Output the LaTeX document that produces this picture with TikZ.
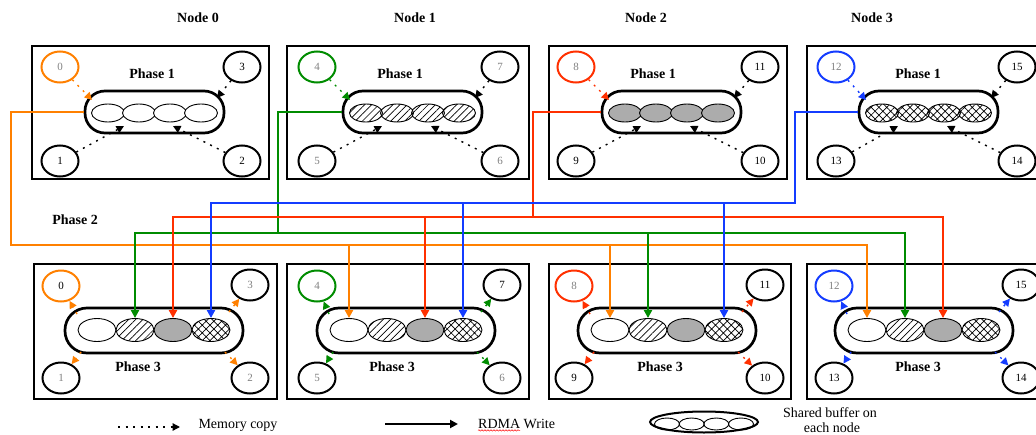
\documentclass[tikz,border=0pt]{standalone}
\usepackage{fontspec}
\setmainfont{Liberation Serif}
\usetikzlibrary{shapes.geometric,arrows.meta,patterns.meta,decorations.pathmorphing}
\definecolor{cOra}{RGB}{255,128,0}
\definecolor{cGrn}{RGB}{0,140,0}
\definecolor{cRed}{RGB}{255,48,0}
\definecolor{cBlu}{RGB}{20,60,255}
\tikzset{
  panel/.style={draw, line width=2.5pt, inner sep=0pt},
  proc/.style={draw, ellipse, line width=2pt, minimum width=37pt, minimum height=31pt,
    inner sep=0pt, font=\fontsize{11}{13}\selectfont},
  capsule/.style={draw, rectangle, line width=2.7pt, inner sep=0pt},
  slotA/.style={draw, ellipse, line width=0.9pt, minimum width=33pt, minimum height=18pt, inner sep=0pt},
  slotB/.style={draw, ellipse, line width=0.9pt, minimum width=38pt, minimum height=23pt, inner sep=0pt},
  buf0/.style={fill=white},
  buf1/.style={pattern={Lines[angle=45,distance=5pt,line width=0.7pt]}},
  buf2/.style={fill=gray!65},
  buf3/.style={pattern={Hatch[angle=45,distance=5.5pt,line width=0.7pt]}},
  copyline/.style={line width=1.4pt, dash pattern=on 2pt off 5.5pt, -{Triangle[length=7.5pt,width=7.5pt]}},
  bus/.style={line width=2pt, -{Triangle[length=8pt,width=8pt]}},
  heading/.style={font=\bfseries\fontsize{14}{16}\selectfont},
  legend/.style={font=\fontsize{14}{17}\selectfont},
}
\begin{document}
\begin{tikzpicture}[x=1pt,y=-1pt]
\useasboundingbox (0,0) rectangle (1036,434);

% column headings
\node[heading] (h0) at (198,18) {Node 0};
\node[heading] (h1) at (415,18) {Node 1};
\node[heading] (h2) at (646,18) {Node 2};
\node[heading] (h3) at (872,18) {Node 3};
\node[heading] (ph2) at (75,220) {Phase 2};

% phase 1: every process copies into the shared buffer of its node
\foreach \i/\bx/\bw/\xa/\xb/\cl/\ph/\col/\pat/\lc in {
  0/150.5/237/60/242/85/152/cOra/buf0/black,
  1/408/242/317/500/343/400/cGrn/buf1/gray,
  2/668/238/576/760/602/653/cRed/buf2/black,
  3/926/238/836/1017/859/918/cBlu/buf3/black}{
  \pgfmathtruncatemacro\na{4*\i}
  \pgfmathtruncatemacro\nb{4*\i+1}
  \pgfmathtruncatemacro\nc{4*\i+2}
  \pgfmathtruncatemacro\nd{4*\i+3}
  \pgfmathsetmacro\cx{\cl+69.5}
  \node[panel, minimum width=\bw pt, minimum height=133pt] (tp\i) at (\bx,112.5) {};
  \node[heading] (tt\i) at (\ph,74) {Phase 1};
  \node[capsule, rounded corners=20pt, minimum width=139pt, minimum height=42pt] (tcap\i) at (\cx,112) {};
  \foreach \k/\dx in {0/-46.5,1/-15.5,2/15.5,3/46.5}
    \node[slotA,\pat] (ts\i\k) at (\cx+\dx,113) {};
  \node[proc, draw=\col, text=gray] (tqa\i) at (\xa,67) {\na};
  \node[proc, text=\lc] (tqd\i) at (\xb,67) {\nd};
  \node[proc, text=\lc] (tqb\i) at (\xa,161) {\nb};
  \node[proc, text=\lc] (tqc\i) at (\xb,161) {\nc};
  \draw[copyline, color=\col] (tqa\i) -- ([shift={(-62.5,-12)}]tcap\i.center);
  \draw[copyline] (tqd\i) -- ([shift={(62.5,-14)}]tcap\i.center);
  \draw[copyline] (tqb\i) -- ([shift={(-30.5,14)}]tcap\i.center);
  \draw[copyline] (tqc\i) -- ([shift={(18.5,14)}]tcap\i.center);
}

% phase 3: the gathered buffer is copied back to every process
\foreach \i/\bx/\bw/\e/\ph/\xa/\xb/\col/\ca/\cb/\cc in {
  0/155.5/243/97/138/61/250/cOra/black/gray/gray,
  1/408/242/349/392/317/502/cGrn/gray/black/gray,
  2/670/242/610/660/574/765/cRed/gray/black/black,
  3/927.5/241/867/918/834/1021/cBlu/gray/black/black}{
  \pgfmathtruncatemacro\na{4*\i}
  \pgfmathtruncatemacro\nb{4*\i+1}
  \pgfmathtruncatemacro\nc{4*\i+2}
  \pgfmathtruncatemacro\nd{4*\i+3}
  \pgfmathsetmacro\cx{\e+57}
  \node[panel, minimum width=\bw pt, minimum height=135pt] (bp\i) at (\bx,331.5) {};
  \node[heading] (bt\i) at (\ph,367) {Phase 3};
  \node[capsule, rounded corners=22pt, minimum width=178pt, minimum height=45pt] (bcap\i) at (\cx,330.5) {};
  \foreach \k in {0,...,3}
    \node[slotB,buf\k] (bs\i\k) at ({\e+38*\k},330) {};
  \node[proc, draw=\col, text=\ca] (bqa\i) at (\xa,286) {\na};
  \node[proc, text=\cb] (bqd\i) at (\xb,285) {\nd};
  \node[proc, text=\cc] (bqb\i) at (\xa,378) {\nb};
  \node[proc, text=\cc] (bqc\i) at (\xb,378) {\nc};
  \draw[copyline, color=\col] ([shift={(-77,-16.5)}]bcap\i.center) -- (bqa\i);
  \draw[copyline, color=\col] ([shift={(75,-18.5)}]bcap\i.center) -- (bqd\i);
  \draw[copyline, color=\col] ([shift={(-73,21.5)}]bcap\i.center) -- (bqb\i);
  \draw[copyline, color=\col] ([shift={(71,21.5)}]bcap\i.center) -- (bqc\i);
}

% phase 2: RDMA writes of each node's buffer into the other nodes
\coordinate (ocorner) at (11,245);
\coordinate (gcorner) at (278,233);
\coordinate (rcorner) at (533,217);
\coordinate (bcorner) at (795,203);

\draw[bus, cOra] (tcap0.west) -| (ocorner) -| (bs30.north);
\draw[bus, cOra] (bs10.north |- ocorner) -- (bs10.north);
\draw[bus, cOra] (bs20.north |- ocorner) -- (bs20.north);

\draw[bus, cGrn] (tcap1.west) -| (gcorner) -| (bs01.north);
\draw[bus, cGrn] (gcorner) -| (bs31.north);
\draw[bus, cGrn] (bs21.north |- gcorner) -- (bs21.north);

\draw[bus, cRed] (tcap2.west) -| (rcorner) -| (bs02.north);
\draw[bus, cRed] (rcorner) -| (bs32.north);
\draw[bus, cRed] (bs12.north |- rcorner) -- (bs12.north);

\draw[bus, cBlu] (tcap3.west) -| (bcorner) -| (bs03.north);
\draw[bus, cBlu] (bs13.north |- bcorner) -- (bs13.north);
\draw[bus, cBlu] (bs23.north |- bcorner) -- (bs23.north);

% legend
\coordinate (mca) at (118,427);
\coordinate (mcb) at (180,427);
\draw[copyline] (mca) -- (mcb);
\node[legend, anchor=west] (mctxt) at (195,425) {Memory copy};

\coordinate (rwa) at (385,424);
\coordinate (rwb) at (458,424);
\draw[bus] (rwa) -- (rwb);
\node[legend, anchor=west, inner sep=0pt] (rwtxt) at (478,424) {RDMA Write};
\draw[red, line width=0.5pt, decorate, decoration={snake, amplitude=0.7pt, segment length=3pt}]
  ([yshift=-1.5pt]rwtxt.south west) -- ([xshift=42pt,yshift=-1.5pt]rwtxt.south west);

\node[draw, ellipse, line width=2pt, minimum width=108pt, minimum height=21pt, inner sep=0pt] (lbuf) at (704,422) {};
\foreach \k/\dx in {0/-37,1/-12.3,2/12.3,3/37}
  \node[draw, ellipse, line width=0.9pt, minimum width=25pt, minimum height=12pt, inner sep=0pt] (lbs\k) at (704+\dx,424) {};
\node[legend, inner sep=0pt] (sbtxt) at (830,413) {Shared buffer on};
\node[legend, inner sep=0pt, anchor=base] (sbtxt2) at (832,432) {each node};
\end{tikzpicture}
\end{document}
